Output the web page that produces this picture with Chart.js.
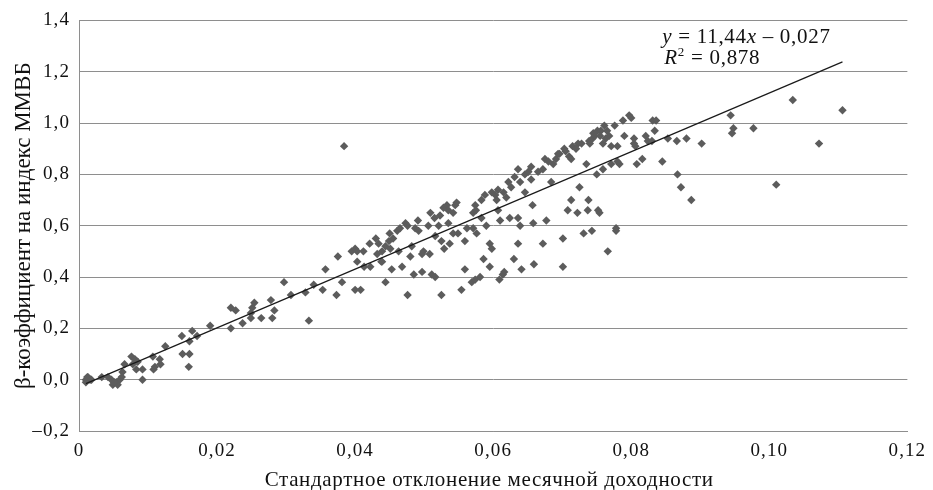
<!DOCTYPE html>
<html lang="ru">
<head>
  <meta charset="UTF-8">
  <title>Бета-коэффициенты и волатильность</title>
  <script src="https://cdn.jsdelivr.net/npm/chart.js"></script>
  <style>
    html, body { margin: 0; padding: 0; background: #fff; }
    #wrap { width: 933px; height: 490px; }
  </style>
</head>
<body>
  <div id="wrap"><canvas id="betaChart" width="933" height="490"></canvas></div>
  <script>
    // Standard deviation of monthly returns (x) and beta to the MICEX index (y)
    const stdev = [
      0.0010, 0.0013, 0.0016, 0.0010, 0.0012, 0.0018, 0.0033, 0.0042, 0.0047, 0.0049,
      0.0054, 0.0059, 0.0062, 0.0063, 0.0056, 0.0051, 0.0066, 0.0076, 0.0081, 0.0078,
      0.0085, 0.0083, 0.0092, 0.0092, 0.0107, 0.0110, 0.0108, 0.0117, 0.0118, 0.0125,
      0.0149, 0.0150, 0.0160, 0.0160, 0.0159, 0.0164, 0.0171, 0.0190, 0.0220, 0.0227,
      0.0220, 0.0237, 0.0249, 0.0249, 0.0254, 0.0251, 0.0264, 0.0278, 0.0280, 0.0283,
      0.0297, 0.0307, 0.0328, 0.0340, 0.0333, 0.0353, 0.0357, 0.0373, 0.0375, 0.0381,
      0.0384, 0.0400, 0.0408, 0.0395, 0.0400, 0.0403, 0.0412, 0.0403, 0.0413, 0.0422,
      0.0421, 0.0430, 0.0434, 0.0432, 0.0439, 0.0444, 0.0438, 0.0449, 0.0451, 0.0450,
      0.0444, 0.0453, 0.0461, 0.0463, 0.0468, 0.0473, 0.0476, 0.0476, 0.0480, 0.0482,
      0.0485, 0.0487, 0.0491, 0.0492, 0.0497, 0.0497, 0.0499, 0.0506, 0.0508, 0.0509,
      0.0511, 0.0516, 0.0516, 0.0521, 0.0523, 0.0525, 0.0525, 0.0528, 0.0529, 0.0533,
      0.0535, 0.0537, 0.0542, 0.0545, 0.0549, 0.0547, 0.0542, 0.0554, 0.0559, 0.0562,
      0.0559, 0.0571, 0.0574, 0.0571, 0.0576, 0.0569, 0.0581, 0.0583, 0.0588, 0.0583,
      0.0590, 0.0595, 0.0598, 0.0586, 0.0595, 0.0598, 0.0603, 0.0607, 0.0605, 0.0610,
      0.0607, 0.0614, 0.0609, 0.0619, 0.0622, 0.0624, 0.0626, 0.0631, 0.0636, 0.0639,
      0.0636, 0.0639, 0.0630, 0.0636, 0.0641, 0.0646, 0.0646, 0.0651, 0.0655, 0.0657,
      0.0658, 0.0659, 0.0665, 0.0672, 0.0675, 0.0672, 0.0677, 0.0684, 0.0687, 0.0691,
      0.0694, 0.0696, 0.0701, 0.0701, 0.0703, 0.0708, 0.0710, 0.0713, 0.0715, 0.0713,
      0.0722, 0.0725, 0.0723, 0.0728, 0.0731, 0.0735, 0.0737, 0.0738, 0.0739, 0.0743,
      0.0744, 0.0747, 0.0751, 0.0752, 0.0750, 0.0756, 0.0759, 0.0761, 0.0763, 0.0766,
      0.0771, 0.0768, 0.0776, 0.0778, 0.0780, 0.0783, 0.0788, 0.0790, 0.0797, 0.0808,
      0.0804, 0.0800, 0.0804, 0.0806, 0.0821, 0.0824, 0.0831, 0.0836, 0.0834, 0.0830,
      0.0816, 0.0780, 0.0771, 0.0759, 0.0845, 0.0853, 0.0866, 0.0880, 0.0902, 0.0867,
      0.0872, 0.0887, 0.0944, 0.0948, 0.0946, 0.0977, 0.1034, 0.1010, 0.1072, 0.1106,
      0.0754, 0.0778, 0.0439, 0.0574, 0.0616, 0.0575, 0.0615, 0.0655, 0.0680, 0.0705,
      0.0720, 0.0740, 0.0755, 0.0765, 0.0745, 0.0535, 0.0515, 0.0465, 0.0455
    ];
    const beta = [
      0.00, 0.01, 0.00, -0.01, 0.01, 0.00, 0.01, 0.01, 0.00, -0.02,
      -0.01, 0.00, 0.01, 0.03, -0.02, -0.01, 0.06, 0.09, 0.08, 0.06,
      0.07, 0.04, 0.04, 0.00, 0.09, 0.05, 0.04, 0.08, 0.06, 0.13,
      0.17, 0.10, 0.15, 0.10, 0.05, 0.19, 0.17, 0.21, 0.28, 0.27,
      0.20, 0.22, 0.26, 0.24, 0.30, 0.28, 0.24, 0.31, 0.24, 0.27,
      0.38, 0.33, 0.34, 0.37, 0.23, 0.35, 0.43, 0.33, 0.48, 0.38,
      0.91, 0.35, 0.35, 0.50, 0.51, 0.50, 0.50, 0.46, 0.44, 0.44,
      0.53, 0.55, 0.53, 0.49, 0.50, 0.52, 0.46, 0.54, 0.51, 0.57,
      0.38, 0.43, 0.58, 0.50, 0.44, 0.61, 0.60, 0.33, 0.48, 0.52,
      0.41, 0.59, 0.62, 0.58, 0.42, 0.49, 0.50, 0.60, 0.49, 0.65,
      0.41, 0.40, 0.56, 0.60, 0.64, 0.54, 0.33, 0.67, 0.51, 0.68,
      0.61, 0.53, 0.65, 0.68, 0.57, 0.69, 0.57, 0.35, 0.54, 0.59,
      0.43, 0.65, 0.68, 0.59, 0.57, 0.38, 0.40, 0.70, 0.72, 0.63,
      0.60, 0.53, 0.51, 0.47, 0.44, 0.73, 0.72, 0.74, 0.70, 0.62,
      0.66, 0.41, 0.39, 0.71, 0.77, 0.63, 0.75, 0.79, 0.82, 0.77,
      0.63, 0.60, 0.47, 0.53, 0.43, 0.80, 0.73, 0.81, 0.78, 0.68,
      0.61, 0.45, 0.81, 0.82, 0.86, 0.53, 0.62, 0.77, 0.84, 0.86,
      0.88, 0.88, 0.55, 0.44, 0.90, 0.66, 0.87, 0.70, 0.91, 0.86,
      0.65, 0.75, 0.92, 0.92, 0.57, 0.84, 0.66, 0.70, 0.93, 0.58,
      0.94, 0.95, 0.97, 0.66, 0.80, 0.97, 0.92, 0.99, 0.94, 0.50,
      0.91, 0.95, 0.99, 0.59, 0.91, 0.84, 1.01, 0.95, 1.03, 0.84,
      0.92, 1.02, 0.94, 0.91, 0.95, 0.93, 1.01, 1.01, 0.97, 0.93,
      0.86, 0.85, 0.84, 0.82, 0.85, 0.94, 0.93, 0.94, 0.92, 0.80,
      0.75, 0.70, 1.03, 0.98, 0.96, 0.98, 1.09, 0.76, 0.92, 1.05,
      0.65, 0.58, 0.46, 0.39, 0.42, 0.66, 0.73, 0.83, 0.85, 0.89,
      0.90, 0.92, 0.95, 0.97, 0.96, 0.66, 0.63, 0.59, 0.55
    ];

    // Linear trend: y = 11,44x – 0,027, R² = 0,878
    const slope = 11.44;
    const intercept = -0.027;
    const rSquared = 0.878;
    const trendRange = [0.0010, 0.1106];

    const xTicks = [0, 0.02, 0.04, 0.06, 0.08, 0.10, 0.12];
    const yTicks = [-0.2, 0, 0.2, 0.4, 0.6, 0.8, 1.0, 1.2, 1.4];

    const xTitle = 'Стандартное отклонение месячной доходности';
    const yTitle = 'β-коэффициент на индекс ММВБ';

    const points = stdev.map((x, i) => ({ x: x, y: beta[i] }));
    const trend = trendRange.map(x => ({ x: x, y: slope * x + intercept }));

    const serif = "'Liberation Serif', 'Times New Roman', serif";
    const gridColor = '#8e8e8e';
    const textColor = '#111';

    function fmt(v, digits, zero) {
      if (Math.abs(v) < 1e-9) return zero;
      const s = Math.abs(v).toFixed(digits).replace('.', ',');
      return v < 0 ? '\u2013' + s : s;
    }

    // slightly wider tracking for the tick labels
    const tracking = {
      id: 'tracking',
      beforeDraw(chart) { chart.ctx.letterSpacing = '1.1px'; }
    };

    // axis titles and the regression equation
    const annotations = {
      id: 'annotations',
      afterDraw(chart) {
        const ctx = chart.ctx;
        const area = chart.chartArea;
        ctx.save();
        ctx.fillStyle = textColor;

        // x axis title
        ctx.letterSpacing = '0.65px';
        ctx.font = '21px ' + serif;
        ctx.textAlign = 'center';
        ctx.textBaseline = 'alphabetic';
        ctx.fillText(xTitle, (area.left + area.right) / 2 - 4, 486);

        // y axis title, rotated
        ctx.save();
        ctx.letterSpacing = '0px';
        ctx.font = '23px ' + serif;
        ctx.translate(30, (area.top + area.bottom) / 2);
        ctx.rotate(-Math.PI / 2);
        ctx.fillText(yTitle, 0, 0);
        ctx.restore();

        // equation and R²
        const x0 = chart.scales.x.getPixelForValue(0.0845);
        const y1 = chart.scales.y.getPixelForValue(1.312);
        const y2 = chart.scales.y.getPixelForValue(1.232);
        const it = 'italic 21px ' + serif;
        const rm = '21px ' + serif;
        ctx.letterSpacing = '0.7px';
        ctx.textAlign = 'left';
        const parts = [
          [it, 'y'], [rm, ' = ' + fmt(slope, 2, '0')], [it, 'x'],
          [rm, ' \u2013 ' + fmt(Math.abs(intercept), 3, '0')]
        ];
        let x = x0;
        parts.forEach(([f, t]) => {
          ctx.font = f;
          ctx.fillText(t, x, y1);
          x += ctx.measureText(t).width;
        });
        x = x0 + 2;
        ctx.font = it;
        ctx.fillText('R', x, y2);
        x += ctx.measureText('R').width;
        ctx.font = '13px ' + serif;
        ctx.fillText('2', x, y2 - 8);
        x += ctx.measureText('2').width;
        ctx.font = rm;
        ctx.fillText(' = ' + fmt(rSquared, 3, '0'), x, y2);
        ctx.restore();
      }
    };

    const ctx = document.getElementById('betaChart').getContext('2d');
    new Chart(ctx, {
      type: 'scatter',
      data: {
        datasets: [
          {
            type: 'line',
            label: 'Линейный тренд',
            data: trend,
            borderColor: '#1a1a1a',
            borderWidth: 1.2,
            pointRadius: 0,
            fill: false
          },
          {
            label: 'Акции',
            data: points,
            pointStyle: 'rectRot',
            pointRadius: 4.2,
            backgroundColor: '#5c5c5c',
            borderColor: '#5c5c5c',
            borderWidth: 0
          }
        ]
      },
      options: {
        responsive: false,
        animation: false,
        layout: { padding: { top: 19, right: 22, left: 0, bottom: 0 } },
        plugins: {
          legend: { display: false },
          tooltip: { enabled: false }
        },
        scales: {
          x: {
            type: 'linear',
            min: xTicks[0],
            max: xTicks[xTicks.length - 1],
            afterBuildTicks: s => { s.ticks = xTicks.map(v => ({ value: v })); },
            afterFit: s => { s.height = 59; },
            grid: { display: false, drawTicks: false },
            border: { display: true, color: gridColor },
            ticks: {
              padding: 9,
              color: textColor,
              font: { family: serif, size: 19 },
              maxRotation: 0,
              callback: v => fmt(v, 2, '0')
            }
          },
          y: {
            type: 'linear',
            min: yTicks[0],
            max: yTicks[yTicks.length - 1],
            afterBuildTicks: s => { s.ticks = yTicks.map(v => ({ value: v })); },
            afterFit: s => { s.width = 79; },
            grid: { color: gridColor, lineWidth: 1, drawTicks: false },
            border: { display: true, color: gridColor },
            ticks: {
              padding: 9,
              color: textColor,
              font: { family: serif, size: 19 },
              callback: v => fmt(v, 1, '0,0')
            }
          }
        }
      },
      plugins: [tracking, annotations]
    });
  </script>
</body>
</html>
